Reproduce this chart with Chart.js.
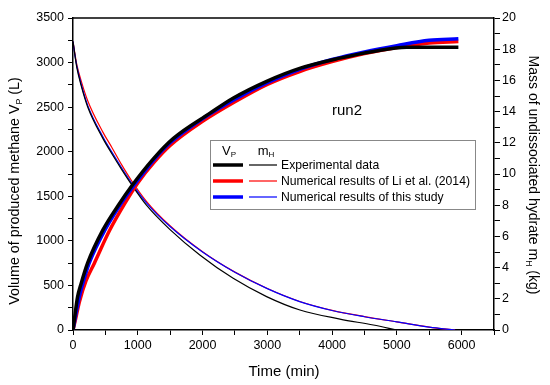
<!DOCTYPE html>
<html lang="en">
<head>
<meta charset="UTF-8">
<title>run2</title>
<script src="https://cdn.jsdelivr.net/npm/chart.js"></script>
<style>
    body { margin: 0; background: #fff; }
</style>
</head>
<body>
<canvas id="grafico" width="550" height="385"></canvas>
<script>
    // Experimental data (black)
    var tempoExp = [0, 20, 70, 125, 225, 460, 700, 900, 1240, 1550, 2110, 2470, 2990, 3500, 4120, 4640, 5150, 5950];
    var vpExp = [0, 110, 370, 520, 750, 1120, 1400, 1610, 1920, 2150, 2430, 2600, 2790, 2935, 3050, 3125, 3172, 3172];
    var tempoMhExp = [0, 30, 60, 124, 227, 459, 600, 750, 900, 1134, 1494, 1958, 2473, 2989, 3504, 4122, 4637, 5000];
    var mhExp = [18.5, 17.6, 16.8, 15.7, 14.3, 12.3, 11.3, 10.3, 9.35, 8.0, 6.45, 4.81, 3.31, 2.14, 1.28, 0.70, 0.32, 0.0];

    // Li et al. (2014) (red)
    var tempoLi = [0, 30, 100, 200, 330, 560, 800, 1000, 1250, 1500, 2000, 2500, 3000, 3500, 4000, 4500, 5000, 5500, 5950];
    var vpLi = [0, 90, 320, 550, 750, 1110, 1420, 1650, 1880, 2070, 2340, 2560, 2755, 2900, 3010, 3100, 3170, 3220, 3236];
    var tempoMhLi = [0, 30, 60, 124, 227, 459, 600, 750, 900, 1134, 1494, 2000, 2500, 3000, 3500, 4000, 4500, 5000, 5500, 5900];
    var mhLi = [18.5, 17.7, 17.0, 16.0, 14.7, 12.7, 11.7, 10.6, 9.6, 8.25, 6.7, 5.02, 3.71, 2.66, 1.83, 1.26, 0.86, 0.52, 0.19, 0.0];

    // this study (blue)
    var tempoEstudo = [0, 25, 100, 200, 250, 500, 800, 1000, 1250, 1500, 2000, 2500, 3000, 3500, 4000, 4500, 5000, 5500, 5950];
    var vpEstudo = [0, 100, 380, 640, 750, 1130, 1480, 1680, 1910, 2100, 2370, 2590, 2775, 2925, 3035, 3120, 3190, 3250, 3266];
    var tempoMhEstudo = [0, 30, 60, 124, 227, 459, 600, 750, 900, 1134, 1494, 2000, 2500, 3000, 3500, 4000, 4500, 5000, 5500, 5900];
    var mhEstudo = [18.5, 17.6, 16.9, 15.8, 14.4, 12.4, 11.4, 10.4, 9.45, 8.15, 6.65, 5.0, 3.7, 2.65, 1.82, 1.25, 0.85, 0.52, 0.18, 0.0];

    var legendas = ['Experimental data', 'Numerical results of Li et al. (2014)', 'Numerical results of this study'];
    var cores = ['#000000', '#ff0000', '#0000ff'];

    var fonte = "'Liberation Sans', Arial, sans-serif";

    function pares(xs, ys) {
        var lista = [];
        for (var i = 0; i < xs.length; i++) {
            lista.push({ x: xs[i], y: ys[i] });
        }
        return lista;
    }

    function serie(xs, ys, cor, eixo, largura, ordem) {
        return {
            data: pares(xs, ys),
            borderColor: cor,
            backgroundColor: cor,
            borderWidth: largura,
            pointRadius: 0,
            fill: false,
            cubicInterpolationMode: 'monotone',
            yAxisID: eixo,
            order: ordem
        };
    }

    function ticksFixos(min, max, passo) {
        return function (scale) {
            var t = [];
            for (var v = min; v <= max + 1e-9; v += passo) t.push({ value: v });
            scale.ticks = t;
        };
    }

    // texto com subscrito: partes = [[texto, sub?], ...]
    function larguraPartes(ctx, partes, tam) {
        var w = 0;
        partes.forEach(function (p) {
            ctx.font = (p[1] ? tam * 0.62 : tam) + 'px ' + fonte;
            w += ctx.measureText(p[0]).width;
        });
        return w;
    }

    function desenharPartes(ctx, partes, x, y, tam) {
        var w = larguraPartes(ctx, partes, tam);
        var cx = x - w / 2;
        ctx.textBaseline = 'middle';
        ctx.textAlign = 'left';
        partes.forEach(function (p) {
            ctx.font = (p[1] ? tam * 0.62 : tam) + 'px ' + fonte;
            ctx.fillText(p[0], cx, p[1] ? y + tam * 0.3 : y);
            cx += ctx.measureText(p[0]).width;
        });
    }

    var extras = {
        id: 'extras',
        afterDraw: function (chart) {
            var ctx = chart.ctx;
            var area = chart.chartArea;
            ctx.save();
            ctx.fillStyle = '#000';
            ctx.strokeStyle = '#000';

            // moldura de cima
            ctx.lineWidth = 1.5;
            ctx.beginPath();
            ctx.moveTo(area.left, area.top);
            ctx.lineTo(area.right, area.top);
            ctx.stroke();

            // titulos dos eixos
            desenharPartes(ctx, [['Time (min)']], 284, 372, 15);

            ctx.save();
            ctx.translate(15, 191);
            ctx.rotate(-Math.PI / 2);
            desenharPartes(ctx, [['Volume of produced methane V'], ['P', true], [' (L)']], 0, 0, 14.3);
            ctx.restore();

            ctx.save();
            ctx.translate(533, 175);
            ctx.rotate(Math.PI / 2);
            desenharPartes(ctx, [['Mass of undissociated hydrate m'], ['H', true], [' (kg)']], 0, 0, 14);
            ctx.restore();

            // run2
            ctx.font = '15px ' + fonte;
            ctx.textAlign = 'center';
            ctx.textBaseline = 'middle';
            ctx.fillText('run2', 347, 111);

            // legenda
            ctx.strokeStyle = '#888';
            ctx.lineWidth = 1;
            ctx.strokeRect(210.5, 140.5, 265, 69);
            desenharPartes(ctx, [['V'], ['P', true]], 229, 151, 13);
            desenharPartes(ctx, [['m'], ['H', true]], 266, 151, 13);
            var ys = [165, 181, 197];
            for (var i = 0; i < legendas.length; i++) {
                ctx.strokeStyle = cores[i];
                ctx.lineWidth = 3.5;
                ctx.beginPath();
                ctx.moveTo(213, ys[i]);
                ctx.lineTo(243, ys[i]);
                ctx.stroke();
                ctx.lineWidth = 1.2;
                ctx.beginPath();
                ctx.moveTo(249, ys[i]);
                ctx.lineTo(277, ys[i]);
                ctx.stroke();
                ctx.font = '12.2px ' + fonte;
                ctx.textAlign = 'left';
                ctx.textBaseline = 'middle';
                ctx.fillStyle = '#000';
                ctx.fillText(legendas[i], 281, ys[i] + 1);
            }
            ctx.restore();
        }
    };

    var config = {
        type: 'line',
        data: {
            datasets: [
                serie(tempoExp, vpExp, cores[0], 'y', 3.5, 0),
                serie(tempoEstudo, vpEstudo, cores[2], 'y', 3.5, 1),
                serie(tempoLi, vpLi, cores[1], 'y', 3.5, 2),
                serie(tempoMhExp, mhExp, cores[0], 'y2', 1.2, 3),
                serie(tempoMhEstudo, mhEstudo, cores[2], 'y2', 1.2, 4),
                serie(tempoMhLi, mhLi, cores[1], 'y2', 1.2, 5)
            ]
        },
        options: {
            responsive: false,
            animation: false,
            layout: { padding: { top: 18, left: 0, right: 0, bottom: 0 } },
            plugins: { legend: { display: false }, tooltip: { enabled: false } },
            scales: {
                x: {
                    type: 'linear',
                    min: 0,
                    max: 6500,
                    afterBuildTicks: ticksFixos(0, 6500, 500),
                    afterFit: function (s) { s.height = 55; },
                    grid: { drawOnChartArea: false, drawTicks: true, tickLength: 5, color: '#000' },
                    border: { color: '#000', width: 1.5 },
                    ticks: {
                        color: '#000',
                        padding: 3,
                        maxRotation: 0,
                        autoSkip: false,
                        font: { family: fonte, size: 12.5 },
                        callback: function (v) { return (v % 1000 === 0 && v <= 6000) ? v : ''; }
                    }
                },
                y: {
                    position: 'left',
                    min: 0,
                    max: 3500,
                    afterBuildTicks: ticksFixos(0, 3500, 250),
                    afterFit: function (s) { s.width = 73; },
                    grid: { drawOnChartArea: false, drawTicks: true, tickLength: 5, color: '#000' },
                    border: { color: '#000', width: 1.5 },
                    ticks: {
                        color: '#000',
                        padding: 4,
                        autoSkip: false,
                        font: { family: fonte, size: 12.5 },
                        callback: function (v) { return v % 500 === 0 ? v : ''; }
                    }
                },
                y2: {
                    position: 'right',
                    min: 0,
                    max: 20,
                    afterBuildTicks: ticksFixos(0, 20, 1),
                    afterFit: function (s) { s.width = 56; },
                    grid: { drawOnChartArea: false, drawTicks: true, tickLength: 6, color: '#000' },
                    border: { color: '#000', width: 1.5 },
                    ticks: {
                        color: '#000',
                        padding: 2,
                        autoSkip: false,
                        font: { family: fonte, size: 12.5 },
                        callback: function (v) { return v % 2 === 0 ? v : ''; }
                    }
                }
            }
        },
        plugins: [extras]
    };

    var meuGrafico = new Chart(document.getElementById('grafico'), config);
</script>
</body>
</html>
